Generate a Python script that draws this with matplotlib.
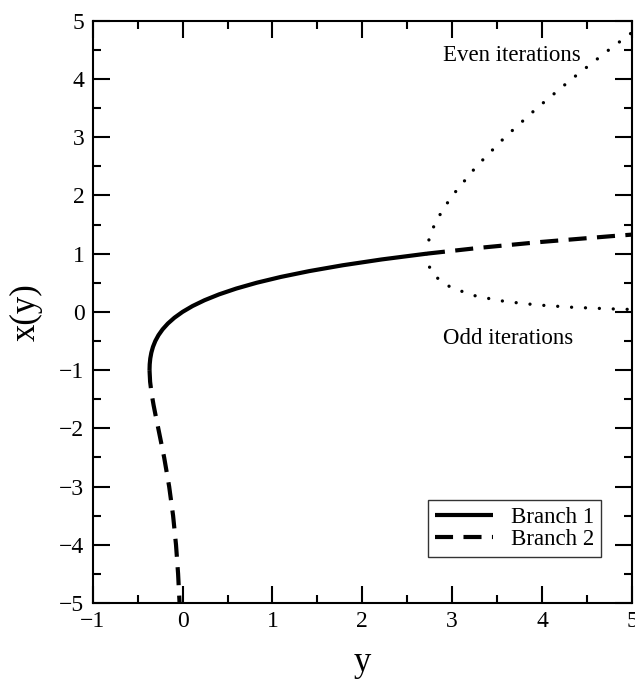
import matplotlib
matplotlib.use("Agg")
import matplotlib.pyplot as plt
from matplotlib.ticker import MultipleLocator

plt.rcParams['font.family'] = ['Liberation Serif', 'DejaVu Serif']
plt.rcParams['mathtext.fontset'] = 'stix'
plt.rcParams['lines.scale_dashes'] = False

# Branch 1 (solid): y values and x(y)
b1_y = [-0.3679, -0.3659, -0.3595, -0.3476, -0.3293, -0.3033, -0.2681, -0.2222,
        -0.1637, -0.0905, 0.0, 0.1105, 0.2443, 0.4050, 0.5967, 0.8244, 1.0933,
        1.4096, 1.7804, 2.2136, 2.7183]
b1_x = [-1.0, -0.9, -0.8, -0.7, -0.6, -0.5, -0.4, -0.3, -0.2, -0.1, 0.0, 0.1,
        0.2, 0.3, 0.4, 0.5, 0.6, 0.7, 0.8, 0.9, 1.0]

# Branch 2 (dashed, lower part)
b2_y = [-0.3679, -0.3614, -0.3452, -0.3230, -0.2975, -0.2707, -0.2052, -0.1494,
        -0.1057, -0.0733, -0.0500, -0.0337]
b2_x = [-1.0, -1.2, -1.4, -1.6, -1.8, -2.0, -2.5, -3.0, -3.5, -4.0, -4.5, -5.0]

# Dashed continuation beyond y = e
b1c_y = [2.7183, 3.3046, 3.984, 4.770, 5.0]
b1c_x = [1.0, 1.1, 1.2, 1.3, 1.3267]

# Iterations (dotted)
even_y = [2.7183, 2.722, 2.734, 2.752, 2.803, 2.893, 3.003, 3.270, 3.587, 3.943, 4.330, 4.743, 5.0]
even_x = [1.0, 1.1, 1.2, 1.3, 1.5, 1.75, 2.0, 2.5, 3.0, 3.5, 4.0, 4.5, 4.798]
odd_y = [2.7183, 2.722, 2.734, 2.752, 2.803, 2.893, 3.003, 3.270, 3.587, 3.943, 4.330, 4.743, 5.0]
odd_x = [1.0, 0.906, 0.8235, 0.7501, 0.6253, 0.5028, 0.4064, 0.2684, 0.1786, 0.1191, 0.0793, 0.0527, 0.0411]

fig = plt.figure(figsize=(6.35, 6.79), dpi=100)
ax = fig.add_axes([0.146, 0.1119, 0.8493, 0.8576])

lw = 3.0
dash = (13, 7.5)
ax.plot(b1_y, b1_x, color='black', lw=lw, solid_capstyle='butt', label='Branch 1')
ax.plot(b2_y, b2_x, color='black', lw=lw, dashes=dash, dash_capstyle='butt', label='Branch 2')
ax.plot(b1c_y, b1c_x, color='black', lw=lw, dashes=dash, dash_capstyle='butt')
ax.plot(even_y, even_x, color='black', lw=2.4, dashes=(0.01, 10.0), dash_capstyle='round')
ax.plot(odd_y, odd_x, color='black', lw=2.4, dashes=(0.01, 10.0), dash_capstyle='round')

ax.text(2.90, 4.41, 'Even iterations', fontsize=16.5, va='center', ha='left')
ax.text(2.90, -0.45, 'Odd iterations', fontsize=16.5, va='center', ha='left')

ax.set_xlim(-1, 5)
ax.set_ylim(-5, 5)
ax.xaxis.set_major_locator(MultipleLocator(1))
ax.xaxis.set_minor_locator(MultipleLocator(0.5))
ax.yaxis.set_major_locator(MultipleLocator(1))
ax.yaxis.set_minor_locator(MultipleLocator(0.5))
ax.tick_params(which='both', direction='in', top=True, right=True, labelsize=17, width=1.5)
ax.tick_params(which='major', length=12, pad=6)
ax.tick_params(which='minor', length=6)
for s in ax.spines.values():
    s.set_linewidth(1.5)

ax.set_xlabel('y', fontsize=25, labelpad=10)
ax.set_ylabel('x(y)', fontsize=25, labelpad=12)

leg = ax.legend(loc='lower right', bbox_to_anchor=(0.942, 0.079), borderaxespad=0,
                fontsize=16.5, frameon=True, fancybox=False, handlelength=2.55,
                handletextpad=0.75, labelspacing=0.05, borderpad=0.3)
leg.get_frame().set_edgecolor('black')
leg.get_frame().set_linewidth(1.0)

fig.savefig('out.png', dpi=100)
